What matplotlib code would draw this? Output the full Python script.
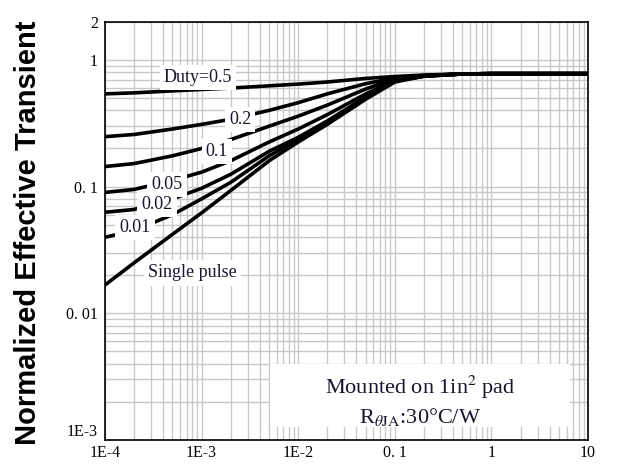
import numpy as np
import matplotlib.pyplot as plt
from matplotlib.patches import Rectangle

plt.rcParams['mathtext.fontset'] = 'stix'

# pulse width (s) and normalized transient values
t = [1e-4, 2e-4, 5e-4, 1e-3, 2e-3, 5e-3, 1e-2, 2e-2, 5e-2, 0.1, 0.2, 0.5, 1, 2, 5, 10]
duty_50 = [0.54, 0.55, 0.57, 0.585, 0.60, 0.625, 0.645, 0.67, 0.715, 0.74, 0.76, 0.775, 0.78, 0.78, 0.78, 0.78]
duty_20 = [0.248, 0.258, 0.285, 0.31, 0.34, 0.40, 0.46, 0.54, 0.65, 0.72, 0.755, 0.775, 0.78, 0.78, 0.78, 0.78]
duty_10 = [0.144, 0.152, 0.175, 0.20, 0.235, 0.30, 0.36, 0.44, 0.59, 0.71, 0.75, 0.775, 0.78, 0.78, 0.78, 0.78]
duty_05 = [0.090, 0.095, 0.112, 0.13, 0.16, 0.225, 0.285, 0.37, 0.54, 0.69, 0.75, 0.775, 0.78, 0.78, 0.78, 0.78]
duty_02 = [0.0627, 0.066, 0.08, 0.097, 0.125, 0.19, 0.245, 0.33, 0.51, 0.68, 0.745, 0.775, 0.78, 0.78, 0.78, 0.78]
duty_01 = [0.0398, 0.045, 0.06, 0.08, 0.108, 0.175, 0.235, 0.32, 0.50, 0.68, 0.745, 0.775, 0.78, 0.78, 0.78, 0.78]
single = [0.0167, 0.025, 0.042, 0.062, 0.093, 0.16, 0.225, 0.31, 0.49, 0.67, 0.745, 0.775, 0.78, 0.78, 0.78, 0.78]

curves = [duty_50, duty_20, duty_10, duty_05, duty_02, duty_01, single]

# curve labels: (text, x, y) in data coords
labels = [("Duty=0.5", 9.2e-4, 0.724),
          ("0.2", 2.5e-3, 0.338),
          ("0.1", 1.44e-3, 0.189),
          ("0.05", 4.4e-4, 0.104),
          ("0.02", 3.45e-4, 0.0724),
          ("0.01", 2.05e-4, 0.0478),
          ("Single pulse", 8.1e-4, 0.0208)]

xticks = [1e-4, 1e-3, 1e-2, 0.1, 1, 10]
xticklabels = ["1E-4", "1E-3", "1E-2", "0. 1", "1", "10"]
yticks = [1e-3, 1e-2, 0.1, 1, 2]
yticklabels = ["1E-3", "0. 01", "0. 1", "1", "2"]

fig = plt.figure(figsize=(6.21, 4.65), dpi=100)
ax = fig.add_axes([0.169, 0.054, 0.778, 0.899])

for c in curves:
    ax.plot(t, c, color='black', lw=2.6, solid_capstyle='round', zorder=3)

ax.set_xscale('log')
ax.set_yscale('log')
ax.set_xlim(1e-4, 10)
ax.set_ylim(1e-3, 2)

ax.grid(True, which='both', color='#c8c8c8', lw=1.0, zorder=0)
ax.set_axisbelow(True)

ax.set_xticks(xticks)
ax.set_xticklabels(xticklabels, family='Liberation Serif', fontsize=11.5)
ax.set_yticks(yticks)
ax.set_yticklabels(yticklabels, family='Liberation Serif', fontsize=11.5)
ax.get_yticklabels()[0].set_va('bottom')
ax.minorticks_on()
ax.tick_params(which='both', length=0)
ax.tick_params(axis='x', pad=4)
ax.tick_params(axis='y', pad=5)
for s in ax.spines.values():
    s.set_linewidth(1.2)

for txt, x, y in labels:
    ax.text(x, y, txt, family='Liberation Serif', fontsize=13, color='#15152e',
            ha='center', va='center', zorder=4,
            bbox=dict(facecolor='white', edgecolor='none', pad=3))

ax.add_patch(Rectangle((0.342, 0.031), 0.62, 0.15, transform=ax.transAxes,
                       facecolor='white', edgecolor='none', zorder=2))
ax.text(0.652, 0.125, "Mounted on 1in$^2$ pad", transform=ax.transAxes,
        family='Liberation Serif', fontsize=16, color='#15152e',
        ha='center', va='center', zorder=4)
ax.text(0.652, 0.055, "R$_{\\theta\\mathrm{JA}}$:30°C/W", transform=ax.transAxes,
        family='Liberation Serif', fontsize=16, color='#15152e',
        ha='center', va='center', zorder=4)

fig.text(0.045, 0.5, "Normalized Effective Transient", rotation=90,
         family='Liberation Sans', fontweight='bold', fontsize=21,
         ha='center', va='center')

fig.savefig("out.png", dpi=100)
